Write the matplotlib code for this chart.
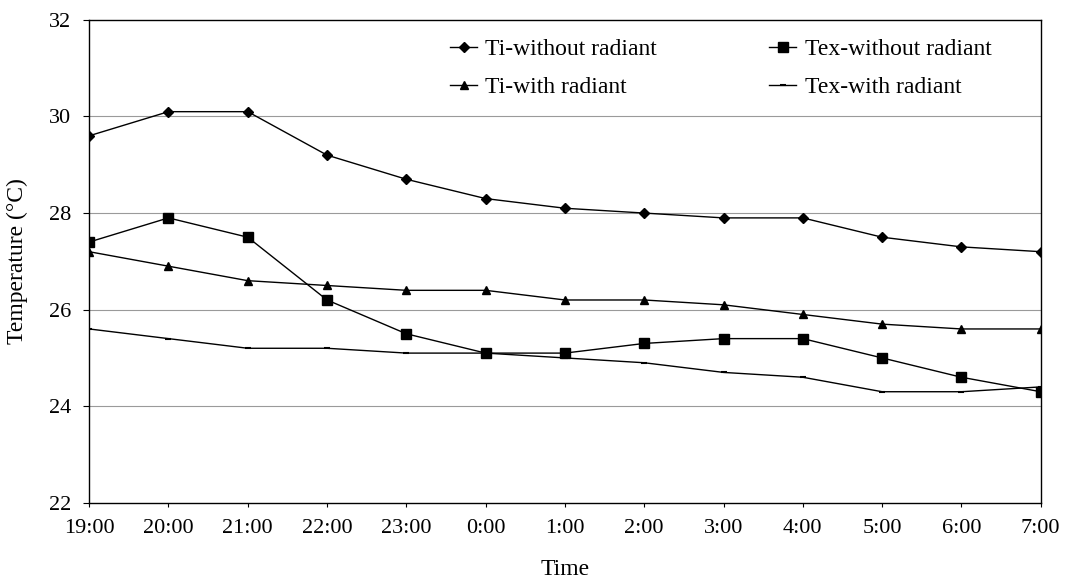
import numpy as np
import matplotlib as mpl

mpl.use('Agg')
import matplotlib.pyplot as plt

plt.rcParams['font.family'] = ['Liberation Serif', 'DejaVu Serif']

times = ['19:00', '20:00', '21:00', '22:00', '23:00', '0:00', '1:00',
         '2:00', '3:00', '4:00', '5:00', '6:00', '7:00']

ti_without = [29.6, 30.1, 30.1, 29.2, 28.7, 28.3, 28.1, 28.0, 27.9, 27.9, 27.5, 27.3, 27.2]
tex_without = [27.4, 27.9, 27.5, 26.2, 25.5, 25.1, 25.1, 25.3, 25.4, 25.4, 25.0, 24.6, 24.3]
ti_with = [27.2, 26.9, 26.6, 26.5, 26.4, 26.4, 26.2, 26.2, 26.1, 25.9, 25.7, 25.6, 25.6]
tex_with = [25.6, 25.4, 25.2, 25.2, 25.1, 25.1, 25.0, 24.9, 24.7, 24.6, 24.3, 24.3, 24.4]

y_ticks = [22, 24, 26, 28, 30, 32]

FS_TICK = 16
FS_TEXT = 17


def main():
  fig = plt.figure(figsize=(10.74, 5.86), dpi=100)
  ax = fig.add_axes([0.083, 0.142, 0.886, 0.824])

  x = np.arange(len(times))

  # grey horizontal grid, behind the series
  for yv in y_ticks[1:-1]:
    ax.axhline(yv, color='#9a9a9a', lw=0.8, zorder=0)

  l1, = ax.plot(x, ti_without, color='black', lw=1.0, marker='D', ms=5,
                label='Ti-without radiant')
  l2, = ax.plot(x, tex_without, color='black', lw=1.0, marker='s', ms=6.5,
                label='Tex-without radiant')
  l3, = ax.plot(x, ti_with, color='black', lw=1.0, marker='^', ms=6,
                label='Ti-with radiant')
  l4, = ax.plot(x, tex_with, color='black', lw=1.0, marker='_', ms=4,
                mew=1.5, label='Tex-with radiant')

  ax.set_xlim(0, len(times) - 1)
  ax.set_ylim(22, 32)
  ax.set_xticks(x)
  ax.set_xticklabels(times)
  ax.set_yticks(y_ticks)
  ax.tick_params(axis='both', labelsize=FS_TICK, direction='out', length=4,
                 width=0.8)
  ax.tick_params(axis='y', pad=9)
  ax.tick_params(axis='x', length=3, pad=9)

  for sp in ax.spines.values():
    sp.set_linewidth(1.0)
    sp.set_color('black')

  ax.set_xlabel('Time', fontsize=FS_TEXT, labelpad=15)
  ax.set_ylabel('Temperature (°C)', fontsize=FS_TEXT, labelpad=15)

  # legend is filled column by column, so order handles to read row-wise
  ax.legend([l1, l3, l2, l4],
            [h.get_label() for h in (l1, l3, l2, l4)],
            ncol=2, frameon=False, fontsize=FS_TEXT, handlelength=1.15,
            handletextpad=0.35, columnspacing=4.75, labelspacing=0.7,
            borderpad=0, borderaxespad=0,
            loc='upper left', bbox_to_anchor=(4.55, 31.62),
            bbox_transform=ax.transData)

  plt.savefig('out.png')


main()
